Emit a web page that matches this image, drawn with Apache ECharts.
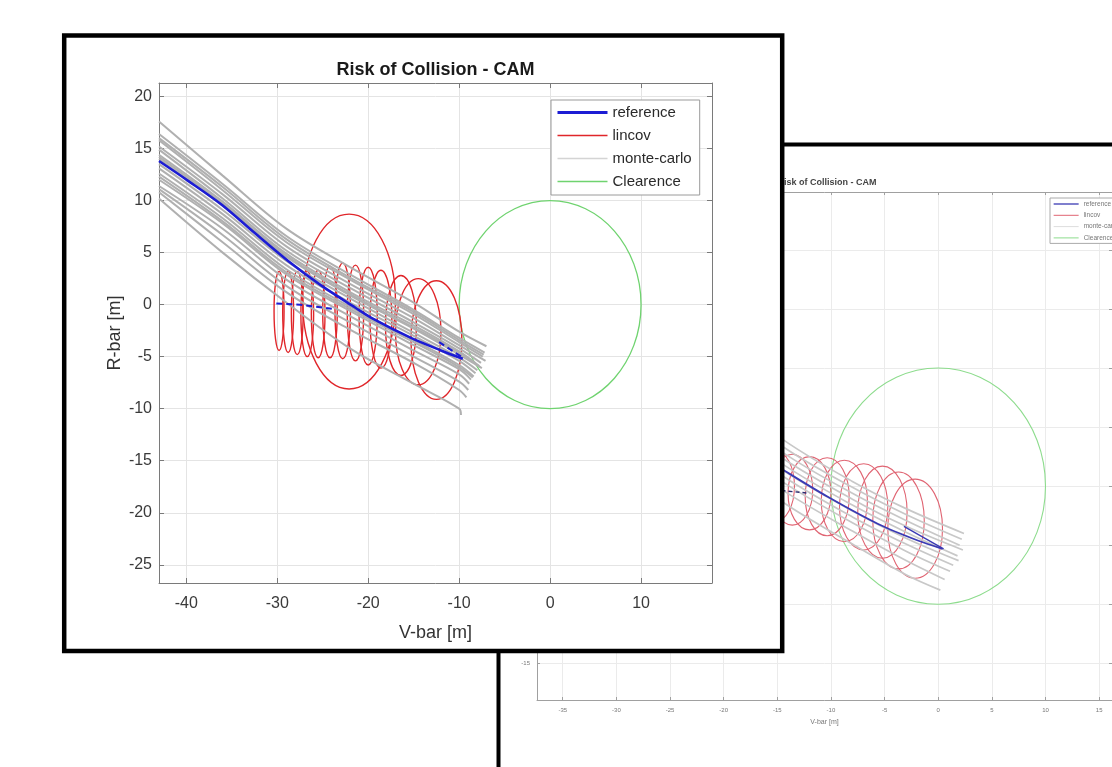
<!DOCTYPE html>
<html><head><meta charset="utf-8">
<style>html,body{margin:0;padding:0;background:#fff;}#c{width:1112px;height:767px;}</style>
<script src="https://cdn.jsdelivr.net/npm/echarts@6/dist/echarts.min.js"></script>
</head><body><div id="c"></div>
<script>
const FONT = "'Liberation Sans', Arial, Helvetica, sans-serif";

// ===== Front chart (main screenshot) =====
const refMain = [[-43,13.8],[-39.8,11.9],[-36.1,9.6],[-32.5,6.9],[-28.8,4.2],[-25.1,1.8],[-21.4,-0.3],[-19.6,-1.3],[-15.3,-3.2],[-12,-4.4],[-9.6,-5.2]];
const refMainDash1 = [[-30.1,0.1],[-27.5,0.0],[-24.0,-0.4]];
const refMainDash2 = [[-12.2,-3.6],[-9.6,-5.1]];
const mcMainX = [-43,-36,-29,-22,-15,-10];
const mcMainY = [
  [17.6,12.4,7.3,3.6,0.2,-2.6],
  [16.4,11.6,6.6,2.9,-0.5,-3.2],
  [16.0,11.3,6.3,2.6,-0.7,-3.4],
  [15.8,11.0,6.0,2.4,-0.9,-3.6],
  [15.2,10.6,5.6,2.0,-1.3,-3.9],
  [14.9,10.2,5.2,1.6,-1.7,-4.2],
  [14.4,9.9,4.9,1.2,-2.0,-4.5],
  [14.2,9.7,4.7,1.0,-2.2,-4.6],
  [14.0,9.5,4.6,0.9,-2.3,-4.8],
  [13.5,9.1,4.2,0.6,-2.7,-5.1],
  [13.1,8.7,3.8,0.2,-3.0,-5.4],
  [12.6,8.3,3.4,-0.2,-3.4,-5.8],
  [12.3,8.0,3.1,-0.4,-3.6,-6.0],
  [12.0,7.8,2.9,-0.6,-3.9,-6.2],
  [11.4,7.3,2.4,-1.1,-4.4,-6.7],
  [11.1,6.7,1.8,-1.7,-5.0,-7.4],
  [10.8,6.0,1.2,-2.4,-5.6,-8.2],
  [10.2,5.0,0.2,-4.2,-7.6,-10.0]
];
const mcMainEnd = [[-7.0,-4.0],[-7.2,-4.6],[-7.3,-4.8],[-7.4,-5.0],[-7.1,-5.4],[-7.6,-5.6],[-7.8,-5.9],[-7.7,-6.0],[-7.5,-6.1],[-8.0,-6.3],[-8.2,-6.6],[-8.4,-6.9],[-8.5,-7.0],[-8.7,-7.2],[-8.9,-7.6],[-9.0,-8.2],[-9.2,-8.9],[-9.8,-10.6]];
// lincov ellipses: [centerX, centerY, radiusX, radiusY]
const lincovMain = [
  [-22.1,0.3,5.1,8.4],
  [-29.8,-0.6,0.55,3.8],[-28.8,-0.7,0.6,3.9],[-27.8,-0.8,0.65,4.0],[-26.7,-0.9,0.7,4.1],
  [-25.5,-0.9,0.75,4.2],[-24.2,-0.7,0.8,4.4],[-22.8,-0.6,0.85,4.6],[-21.4,-0.8,0.9,4.6],
  [-20.0,-1.1,1.0,4.7],[-18.6,-1.4,1.2,4.7],[-16.4,-2.0,1.7,4.8],[-14.5,-2.6,2.5,5.1],[-12.5,-3.4,2.8,5.7]
];
const clearMain = [[0,0,10,10]];

// ===== Back chart (second screenshot) =====
const refBack = [[-37.4,17.0],[-32,12.9],[-27,9.4],[-22,6.0],[-18,3.4],[-14.4,1.35],[-10.3,-0.9],[-5.6,-3.2],[-1.9,-4.6],[0.4,-5.3]];
const refBackDash1 = [[-19.8,0.1],[-12.0,-0.6]];
const refBackDash2 = [[-3.2,-3.4],[0.5,-5.3]];
const mcBackX = [-37.4,-30,-22,-14.4,-8,-3];
const mcBackY = [
  [20.0,15.4,9.2,3.9,0.4,-1.9],
  [19.0,14.6,8.5,3.3,-0.1,-2.4],
  [18.2,13.9,7.9,2.8,-0.6,-2.9],
  [17.5,13.3,7.3,2.3,-1.1,-3.4],
  [16.9,12.7,6.8,1.8,-1.6,-3.9],
  [16.2,12.1,6.2,1.3,-2.1,-4.4],
  [15.6,11.5,5.7,0.8,-2.6,-4.9],
  [15.0,10.9,5.1,0.3,-3.1,-5.5],
  [14.3,10.2,4.4,-0.4,-3.8,-6.3],
  [13.5,9.4,3.6,-1.4,-4.9,-7.5]
];
const mcBackEnd = [[2.4,-4.0],[2.2,-4.5],[2.0,-5.0],[2.3,-5.4],[1.8,-5.9],[1.9,-6.3],[1.4,-6.7],[1.1,-7.2],[0.6,-7.9],[0.2,-8.8]];
const lincovBack = [
  [-2.15,-3.6,2.55,4.2],[-3.7,-2.9,2.4,4.1],[-5.2,-2.2,2.3,3.9],[-6.95,-1.75,2.25,3.65],
  [-8.75,-1.25,2.15,3.45],[-10.35,-0.9,2.05,3.3],[-12.0,-0.6,2.0,3.1],[-13.6,-0.3,1.9,3.0],
  [-15.2,0.0,1.8,3.0],[-16.8,0.2,1.6,2.9]
];
const clearBack = [[0,0,10,10]];

// ===== helpers =====
function makeAxes(kind, gi, min, max, split, zl, st, name, nameGap, nameSize) {
  const common = {type:'value', gridIndex:gi, min:min, max:max, splitNumber:split, zlevel:zl, z:1, silent:true};
  const main = Object.assign({}, common, {
    position: kind === 'x' ? 'bottom' : 'left',
    axisLine:{show:true, onZero:false, lineStyle:{color:st.axis, width:1}},
    axisTick:{show:true, inside:true, length:st.tick, lineStyle:{color:st.axis}},
    axisLabel:{show:true, margin: kind === 'x' ? st.xm : st.ym, fontSize:st.fs, color:st.label, fontFamily:FONT, showMinLabel:false, showMaxLabel:false},
    splitLine:{show:true, lineStyle:{color:st.grid, width:1}},
    name:name, nameLocation:'middle', nameGap:nameGap,
    nameTextStyle:{fontSize:nameSize, color:st.name, fontFamily:FONT}
  });
  const opp = Object.assign({}, common, {
    position: kind === 'x' ? 'top' : 'right',
    axisLine:{show:true, onZero:false, lineStyle:{color:st.axis, width:1}},
    axisTick:{show:true, inside:true, length:st.tick, lineStyle:{color:st.axis}},
    axisLabel:{show:false}, splitLine:{show:false}
  });
  return [main, opp];
}
function lineSeries(name, data, ai, zl, color, width, dash) {
  return {type:'line', name:name, data:data, xAxisIndex:ai, yAxisIndex:ai, zlevel:zl, z:2,
    symbol:'none', showSymbol:false, silent:true, animation:false, clip:true,
    lineStyle:{color:color, width:width, type: dash || 'solid'}, itemStyle:{color:color}};
}
function ellipseSeries(name, data, ai, zl, color, width) {
  return {type:'custom', name:name, data:data, xAxisIndex:ai, yAxisIndex:ai, zlevel:zl, z:2,
    silent:true, animation:false, encode:{x:0, y:1}, itemStyle:{color:color},
    renderItem: function(params, api) {
      const c = api.coord([api.value(0), api.value(1)]);
      const s = api.size([api.value(2), api.value(3)]);
      return {type:'ellipse', shape:{cx:c[0], cy:c[1], rx:s[0], ry:s[1]},
        style:{fill:'none', stroke:color, lineWidth:width}};
    }};
}
function mcLines(xs, ys, ends, ai, zl, color, width) {
  return ys.map(function(row, k) {
    const d = xs.map(function(x, i) { return [x, row[i]]; });
    d.push(ends[k]);
    return Object.assign(lineSeries('monte-carlo', d, ai, zl, color, width), {smooth:0.35});
  });
}

const stFront = {axis:'#7a7a7a', tick:5, xm:13, ym:7, fs:16, label:'#3a3a3a', grid:'#e4e4e4', name:'#333'};
const stBack = {axis:'#a0a0a0', tick:3, xm:7, ym:7, fs:6, label:'#777', grid:'#ebebeb', name:'#777'};

const C1 = {blue:'#1c1cd4', red:'#e0262a', gray:'#b0b0b0', green:'#6fd36f'};
const C2 = {blue:'#3a3ab4', red:'#e06472', gray:'#c8c8c8', green:'#8ddc8d'};

const series = [].concat(
  [lineSeries('lincov', [], 0, 1, C1.red, 1.4), lineSeries('Clearence', [], 0, 1, C1.green, 1.3)],
  mcLines(mcMainX, mcMainY, mcMainEnd, 0, 1, C1.gray, 2),
  [ellipseSeries('Clearence', clearMain, 0, 1, C1.green, 1.3),
   ellipseSeries('lincov', lincovMain, 0, 1, C1.red, 1.4),
   Object.assign(lineSeries('reference', refMain, 0, 1, C1.blue, 2.6), {smooth:0.3}),
   lineSeries('reference', refMainDash1, 0, 1, C1.blue, 2, [6,4]),
   lineSeries('reference', refMainDash2, 0, 1, C1.blue, 2, [6,4])],
  mcLines(mcBackX, mcBackY, mcBackEnd, 2, 0, C2.gray, 1.7),
  [ellipseSeries('Clearence', clearBack, 2, 0, C2.green, 1.1),
   ellipseSeries('lincov', lincovBack, 2, 0, C2.red, 1.1),
   Object.assign(lineSeries('reference', refBack, 2, 0, C2.blue, 1.8), {smooth:0.3}),
   lineSeries('reference', refBackDash1, 2, 0, '#2a2a70', 1.4, [4,3]),
   lineSeries('reference', refBackDash2, 2, 0, C2.blue, 1.4)]
);

const option = {
  animation:false,
  grid:[
    {left:159, top:83, width:553, height:500, zlevel:1},
    {left:537, top:192, width:579, height:508, zlevel:0}
  ],
  xAxis:[].concat(
    makeAxes('x', 0, -43, 17.8, 5, 1, stFront, 'V-bar [m]', 41, 18),
    makeAxes('x', 1, -37.4, 16.2, 10, 0, stBack, 'V-bar [m]', 19, 7)
  ),
  yAxis:[].concat(
    makeAxes('y', 0, -26.75, 21.3, 10, 1, stFront, 'R-bar [m]', 35, 18),
    makeAxes('y', 1, -18.1, 24.9, 9, 0, stBack, 'R-bar [m]', 18, 7)
  ),
  legend:[
    {zlevel:1, z:10, orient:'vertical', left:551, top:100, padding:[5,8,6,5], itemGap:8,
     itemWidth:50, itemHeight:15, backgroundColor:'#fff', borderColor:'#9a9a9a', borderWidth:1,
     selectedMode:false, itemStyle:{opacity:0},
     textStyle:{fontSize:15, color:'#2a2a2a', fontFamily:FONT},
     data:[
       {name:'reference', lineStyle:{color:C1.blue, width:3}},
       {name:'lincov', lineStyle:{color:C1.red, width:1.5}},
       {name:'monte-carlo', lineStyle:{color:'#d4d4d4', width:1.5}},
       {name:'Clearence', lineStyle:{color:C1.green, width:1.3}}
     ]},
    {zlevel:0, z:10, orient:'vertical', left:1050, top:198, padding:[2.5,3,2,3], itemGap:4.3,
     itemWidth:25, itemHeight:7, backgroundColor:'#fff', borderColor:'#aaaaaa', borderWidth:1,
     selectedMode:false, itemStyle:{opacity:0},
     textStyle:{fontSize:6.5, color:'#777', fontFamily:FONT},
     data:[
       {name:'reference', lineStyle:{color:C2.blue, width:1.3}},
       {name:'lincov', lineStyle:{color:C2.red, width:1}},
       {name:'monte-carlo', lineStyle:{color:'#dddddd', width:1}},
       {name:'Clearence', lineStyle:{color:C2.green, width:1}}
     ]}
  ],
  graphic:[
    {type:'rect', zlevel:0, z:-1, silent:true, shape:{x:498.5, y:144.5, width:800, height:800},
     style:{fill:'#fff', stroke:'#000', lineWidth:4}},
    {type:'text', zlevel:0, z:5, silent:true, x:827, y:183,
     style:{text:'Risk of Collision - CAM', fontSize:9, fontWeight:'bold', fontFamily:FONT, fill:'#444',
            align:'center', verticalAlign:'middle', textAlign:'center', textVerticalAlign:'middle'}},
    {type:'rect', zlevel:1, z:-1, silent:true, shape:{x:64.2, y:35.5, width:718, height:615.5},
     style:{fill:'#fff', stroke:'#000', lineWidth:4.5}},
    {type:'text', zlevel:1, z:5, silent:true, x:435.5, y:70,
     style:{text:'Risk of Collision - CAM', fontSize:18, fontWeight:'bold', fontFamily:FONT, fill:'#1a1a1a',
            align:'center', verticalAlign:'middle', textAlign:'center', textVerticalAlign:'middle'}}
  ],
  series:series
};

const chart = echarts.init(document.getElementById('c'));
chart.setOption(option);
</script>
</body></html>
